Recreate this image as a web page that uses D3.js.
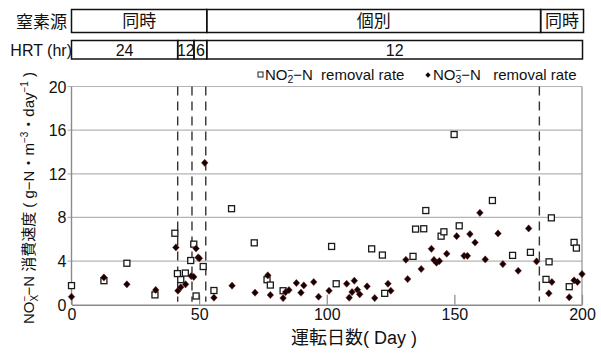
<!DOCTYPE html>
<html>
<head>
<meta charset="utf-8">
<script src="https://cdn.jsdelivr.net/npm/d3@7"></script>
<style>
  body { margin: 0; background: #fff; }
  svg { font-family: "Liberation Sans", "Noto Sans CJK JP", sans-serif; }
  text { white-space: pre; }
</style>
</head>
<body>
<div id="chart"></div>
<script>
// NO2- removal rate (open squares)
var no2Days = [0, 12.7, 21.7, 32.7, 40.5, 41.5, 42.8, 44.6, 46.7, 47.9, 48.8, 51.6, 55.8, 62.7,
  71.6, 76.6, 77.9, 82.9, 101.9, 103.7, 117.6, 121.8, 122.7, 133.8, 134.8, 138.0, 138.8,
  144.8, 145.9, 149.9, 151.9, 164.9, 172.8, 179.8, 185.9, 187.1, 188.0, 195.0, 196.9, 197.8];
var no2Rates = [1.75, 2.2, 3.8, 0.9, 6.55, 2.85, 2.3, 2.9, 4.05, 5.55, 0.8, 3.5, 1.3, 8.8,
  5.67, 2.29, 1.8, 1.28, 5.34, 1.92, 5.12, 4.55, 1.04, 4.43, 6.93, 6.96, 8.63,
  6.28, 6.68, 15.6, 7.23, 9.55, 4.52, 4.8, 2.32, 3.93, 7.96, 1.65, 5.71, 5.19];

// NO3- removal rate (filled diamonds)
var no3Days = [0, 12.7, 21.7, 33, 40.9, 41.7, 42.8, 44.7, 46.9, 47.9, 48.8, 49.6, 50.1, 52.2,
  55.8, 62.9, 71.9, 76.9, 77.9, 82.9, 83.9, 85.2, 88.1, 89.9, 91.0, 94.9, 96.8, 100.9,
  107.8, 108.8, 109.9, 110.8, 112.0, 112.9, 115.8, 118.8, 124.0, 125.1, 131.0, 131.7,
  137.0, 141.0, 142.0, 143.0, 144.1, 147.0, 150.9, 153.8, 155.1, 156.1, 158.1, 160.0,
  162.1, 167.1, 169.0, 175.0, 179.1, 182.2, 187.0, 188.2, 195.0, 196.9, 198.2, 200.0];
var no3Rates = [0.73, 2.5, 1.87, 1.35, 5.25, 1.28, 1.6, 1.87, 2.62, 2.55, 5.15, 4.33, 4.25, 13.0,
  0.64, 1.74, 1.1, 2.69, 0.89, 0.61, 1.16, 1.34, 1.99, 1.1, 1.77, 2.08, 0.73, 1.28,
  1.92, 0.64, 1.16, 2.2, 1.37, 0.95, 1.68, 0.61, 1.92, 1.28, 4.12, 2.35,
  3.27, 5.12, 4.1, 3.85, 4.0, 4.67, 6.28, 4.48, 4.48, 6.47, 5.7, 8.42,
  4.15, 6.53, 3.72, 3.11, 6.99, 3.97, 1.04, 2.08, 0.68, 2.23, 2.08, 2.81];

var xTicks = [0, 50, 100, 150, 200];
var yTicks = [0, 4, 8, 12, 16, 20];

// phase bars above the plot
var sourceLabels = ["同時", "個別", "同時"];
var sourceBounds = [0, 53, 183.8, 200.6];
var hrtLabels = ["24", "12", "6", "12"];
var hrtBounds = [0, 41.6, 48, 53, 200.2];
var switchDays = [41.6, 47.2, 52.6, 183.3];

var width = 601;
var height = 353;
var pL = 71.5, pR = 582, pT = 86.5, pB = 304.7;

var svg = d3.select("#chart")
  .append("svg")
  .attr("width", width)
  .attr("height", height);

var x = d3.scaleLinear().domain([0, 200]).range([pL, pR]);
var y = d3.scaleLinear().domain([0, 20]).range([pB, pT]);

// gridlines
svg.append("g")
  .selectAll("line")
  .data(yTicks.slice(1))
  .enter()
  .append("line")
  .attr("x1", pL - 4)
  .attr("x2", pR)
  .attr("y1", d => y(d))
  .attr("y2", d => y(d))
  .attr("stroke", "#b4b4b4")
  .attr("stroke-width", 1.2);

// frame
svg.append("line").attr("x1", pR).attr("x2", pR).attr("y1", pT).attr("y2", pB)
  .attr("stroke", "#9a9a9a").attr("stroke-width", 1.3);
svg.append("line").attr("x1", pL).attr("x2", pL).attr("y1", pT).attr("y2", pB)
  .attr("stroke", "#8a8a8a").attr("stroke-width", 1.4);

// x axis
var xAxis = svg.append("g")
  .attr("transform", "translate(0," + pB + ")")
  .call(d3.axisBottom(x).tickValues(xTicks).tickSizeInner(-10).tickSizeOuter(0).tickPadding(4));
xAxis.select(".domain").attr("stroke", "#8a8a8a").attr("stroke-width", 1.4);
xAxis.selectAll(".tick line").attr("stroke", "#8a8a8a").attr("stroke-width", 1.2);
xAxis.selectAll(".tick text")
  .attr("font-size", 16)
  .attr("fill", "#111")
  .attr("font-family", "Liberation Sans, sans-serif");

// y tick labels
svg.append("g")
  .selectAll("text")
  .data(yTicks)
  .enter()
  .append("text")
  .attr("x", pL - 5)
  .attr("y", d => y(d) + 6)
  .attr("text-anchor", "end")
  .attr("font-size", 16)
  .attr("fill", "#111")
  .text(d => d);

// switch lines (dashed)
svg.append("g")
  .selectAll("line")
  .data(switchDays)
  .enter()
  .append("line")
  .attr("x1", d => x(d))
  .attr("x2", d => x(d))
  .attr("y1", pT)
  .attr("y2", pB - 3)
  .attr("stroke", "#333")
  .attr("stroke-width", 1.4)
  .attr("stroke-dasharray", "9,6");

// NO2 squares
var no2 = no2Days.map((d, i) => ({day: d, value: no2Rates[i]}));
svg.append("g")
  .selectAll("rect")
  .data(no2)
  .enter()
  .append("rect")
  .attr("x", d => x(d.day) - 3)
  .attr("y", d => y(d.value) - 3)
  .attr("width", 6)
  .attr("height", 6)
  .attr("fill", "#fff")
  .attr("stroke", "#1a1a1a")
  .attr("stroke-width", 1.3);

// NO3 diamonds
var no3 = no3Days.map((d, i) => ({day: d, value: no3Rates[i]}));
var diamond = "M0,-3.6L3.3,0L0,3.6L-3.3,0Z";
svg.append("g")
  .selectAll("path")
  .data(no3)
  .enter()
  .append("path")
  .attr("d", diamond)
  .attr("transform", d => "translate(" + x(d.day) + "," + y(d.value) + ")")
  .attr("fill", "#140103")
  .attr("stroke", "#7a1a1a")
  .attr("stroke-width", 0.5);

// phase boxes
function phaseRow(labels, bounds, y0, h, fs) {
  var cells = labels.map((l, i) => ({label: l, a: bounds[i], b: bounds[i + 1]}));
  var g = svg.append("g");
  g.selectAll("rect")
    .data(cells)
    .enter()
    .append("rect")
    .attr("x", d => x(d.a))
    .attr("y", y0)
    .attr("width", d => x(d.b) - x(d.a))
    .attr("height", h)
    .attr("fill", "none")
    .attr("stroke", "#111")
    .attr("stroke-width", 1.5);
  g.selectAll("text")
    .data(cells)
    .enter()
    .append("text")
    .attr("x", d => (x(d.a) + x(d.b)) / 2)
    .attr("y", y0 + h / 2 + fs * 0.36)
    .attr("text-anchor", "middle")
    .attr("font-size", fs)
    .attr("fill", "#111")
    .text(d => d.label);
}
phaseRow(sourceLabels, sourceBounds, 9.5, 23, 17);
phaseRow(hrtLabels, hrtBounds, 40.5, 18.5, 16);

svg.append("text")
  .attr("x", 67).attr("y", 28)
  .attr("text-anchor", "end")
  .attr("font-size", 17)
  .attr("fill", "#111")
  .text("窒素源");
svg.append("text")
  .attr("x", 72).attr("y", 56)
  .attr("text-anchor", "end")
  .attr("font-size", 16)
  .attr("fill", "#111")
  .text("HRT (hr)");

// legend
function ionLabel(sel, sub, fs) {
  sel.append("tspan").text("NO");
  sel.append("tspan").attr("font-size", fs * 0.7).attr("dy", fs * 0.22).text(sub);
  sel.append("tspan").attr("font-size", fs * 0.7).attr("dx", -fs * 0.42).attr("dy", -fs * 0.62).text("−");
  sel.append("tspan").attr("dy", fs * 0.4).text("−N");
}
var legendFs = 15;
var leg = svg.append("g").attr("transform", "translate(0,80)");
leg.append("rect").attr("x", 258).attr("y", -8).attr("width", 5).attr("height", 5)
  .attr("fill", "#fff").attr("stroke", "#222").attr("stroke-width", 1);
var t1 = leg.append("text").attr("x", 265).attr("font-size", legendFs).attr("fill", "#111");
ionLabel(t1, "2", legendFs);
t1.append("tspan").text("  removal rate");
leg.append("path").attr("d", "M0,-2.8L2.6,0L0,2.8L-2.6,0Z")
  .attr("transform", "translate(428,-5)").attr("fill", "#140103");
var t2 = leg.append("text").attr("x", 433).attr("font-size", legendFs).attr("fill", "#111");
ionLabel(t2, "3", legendFs);
t2.append("tspan").text("   removal rate");

// y axis title
var ylab = svg.append("text")
  .attr("transform", "translate(34,198) rotate(-90)")
  .attr("text-anchor", "middle")
  .attr("font-size", 15)
  .attr("fill", "#111");
ylab.append("tspan").text("NO");
ylab.append("tspan").attr("font-size", 10).attr("dy", 4).text("X");
ylab.append("tspan").attr("font-size", 10).attr("dx", -6.5).attr("dy", -10).text("−");
ylab.append("tspan").attr("dy", 6).text("−N 消費速度 ( g−N・m");
ylab.append("tspan").attr("font-size", 10).attr("dy", -6).text("−3");
ylab.append("tspan").attr("dy", 6).text("・day");
ylab.append("tspan").attr("font-size", 10).attr("dy", -6).text("−1");
ylab.append("tspan").attr("dy", 6).text(" )");

// x axis title
svg.append("text")
  .attr("x", 354)
  .attr("y", 344)
  .attr("text-anchor", "middle")
  .attr("font-size", 18)
  .attr("fill", "#111")
  .text("運転日数( Day )");
</script>
</body>
</html>
